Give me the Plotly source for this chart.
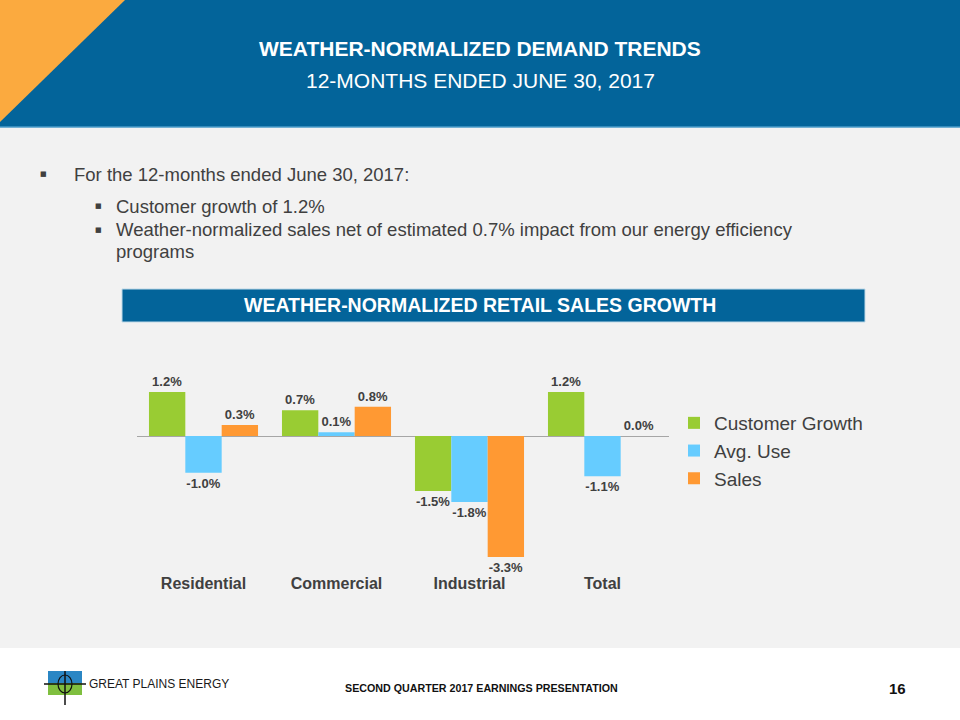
import plotly.graph_objects as go

categories = ["Residential", "Commercial", "Industrial", "Total"]
customer_growth = [1.2, 0.7, -1.5, 1.2]
avg_use = [-1.0, 0.1, -1.8, -1.1]
sales = [0.3, 0.8, -3.3, 0.0]
series_names = ["Customer Growth", "Avg. Use", "Sales"]
series_colors = ["#99CC33", "#66CCFF", "#FF9933"]

W, H = 960, 720
def px(x): return x / W
def py(y): return 1 - y / H

SANS = "Liberation Sans, Arial, sans-serif"
DARK = "#404040"

fig = go.Figure()
for name, vals, col in zip(series_names, [customer_growth, avg_use, sales], series_colors):
    fig.add_trace(go.Bar(
        x=categories, y=vals, name=name, marker=dict(color=col, line=dict(width=0)),
        text=[f"<b>{v:.1f}%</b>" for v in vals], textposition="outside", cliponaxis=False,
        textfont=dict(family=SANS, size=13, color=DARK),
    ))

shapes = [
    dict(type="rect", xref="paper", yref="paper", x0=0, x1=1, y0=py(648), y1=1,
         fillcolor="#F2F2F2", line=dict(width=0), layer="below"),
    dict(type="rect", xref="paper", yref="paper", x0=0, x1=1, y0=py(127), y1=1,
         fillcolor="#03649A", line=dict(width=0), layer="below"),
    dict(type="line", xref="paper", yref="paper", x0=0, x1=1, y0=py(127), y1=py(127),
         line=dict(color="#4A9BC9", width=1.5), layer="below"),
    dict(type="path", xref="paper", yref="paper",
         path=f"M 0 1 L {px(125)} 1 L 0 {py(122)} Z",
         fillcolor="#FBAA3F", line=dict(width=0), layer="below"),
    dict(type="rect", xref="paper", yref="paper", x0=px(122), x1=px(865), y0=py(322), y1=py(289),
         fillcolor="#03649A", line=dict(color="#BFD9E8", width=1), layer="below"),
    # logo
    dict(type="rect", xref="paper", yref="paper", x0=px(48), x1=px(82), y0=py(683), y1=py(671),
         fillcolor="#2A86C4", line=dict(width=0)),
    dict(type="rect", xref="paper", yref="paper", x0=px(48), x1=px(82), y0=py(695), y1=py(683),
         fillcolor="#7FBF3F", line=dict(width=0)),
    dict(type="line", xref="paper", yref="paper", x0=px(44), x1=px(86), y0=py(684), y1=py(684),
         line=dict(color="#111111", width=1.5)),
    dict(type="line", xref="paper", yref="paper", x0=px(65), x1=px(65), y0=py(671), y1=py(705),
         line=dict(color="#111111", width=1.5)),
    dict(type="circle", xref="paper", yref="paper", x0=px(58), x1=px(72), y0=py(693), y1=py(675),
         line=dict(color="#111111", width=1.2)),
]

def ann(text, x, y, size, color, xanchor="center", family=SANS):
    return dict(text=text, x=px(x), y=py(y), xref="paper", yref="paper", xanchor=xanchor,
                yanchor="middle", showarrow=False, font=dict(family=family, size=size, color=color))

annotations = [
    ann("<b>WEATHER-NORMALIZED DEMAND TRENDS</b>", 480, 49, 21, "white"),
    ann("12-MONTHS ENDED JUNE 30, 2017", 480, 80, 21, "white"),
    ann("<b>WEATHER-NORMALIZED RETAIL SALES GROWTH</b>", 480, 305, 19.5, "white"),
    ann("<b>SECOND QUARTER 2017 EARNINGS PRESENTATION</b>", 481, 688, 10.7, "#111111"),
    ann("<b>16</b>", 897, 688, 15, "#111111"),
    ann("GREAT PLAINS ENERGY", 87, 684, 12, "#1a1a1a", xanchor="left"),
]

bullets = [
    (38, 72, 174, "For the 12-months ended June 30, 2017:"),
    (93, 114, 206, "Customer growth of 1.2%"),
    (93, 114, 230, "Weather-normalized sales net of estimated 0.7% impact from our energy efficiency"),
    (None, 114, 252, "programs"),
]
for bx, tx, ty, txt in bullets:
    if bx is not None:
        annotations.append(ann("■", bx, ty, 7, DARK, xanchor="left", family="DejaVu Sans"))
    annotations.append(ann(txt, tx, ty, 18.5, DARK, xanchor="left"))

top_px, bot_px, zero_px, per = 352, 572, 436, 36.7
fig.update_layout(
    width=W, height=H, margin=dict(l=0, r=0, t=0, b=0),
    paper_bgcolor="white", plot_bgcolor="rgba(0,0,0,0)",
    barmode="group", bargap=0.18, bargroupgap=0,
    xaxis=dict(domain=[px(137), px(669)], showgrid=False, showline=False, ticks="",
               tickfont=dict(family=SANS, size=16, color=DARK), ticklabelstandoff=0,
               tickprefix="<b>", ticksuffix="</b>"),
    yaxis=dict(domain=[py(bot_px), py(top_px)],
               range=[-(bot_px - zero_px) / per, (zero_px - top_px) / per],
               showgrid=False, showticklabels=False, zeroline=True, zerolinecolor="#A6A6A6",
               zerolinewidth=1),
    legend=dict(x=px(674), y=py(404), xanchor="left", yanchor="top",
                font=dict(family=SANS, size=19, color=DARK), bgcolor="rgba(0,0,0,0)",
                tracegroupgap=0, itemsizing="constant"),
    shapes=shapes, annotations=annotations,
    font=dict(family=SANS),
)
fig.write_html("out.html", config={"displayModeBar": False},
               post_script="document.body.style.margin='0px';document.body.style.padding='0px';")
